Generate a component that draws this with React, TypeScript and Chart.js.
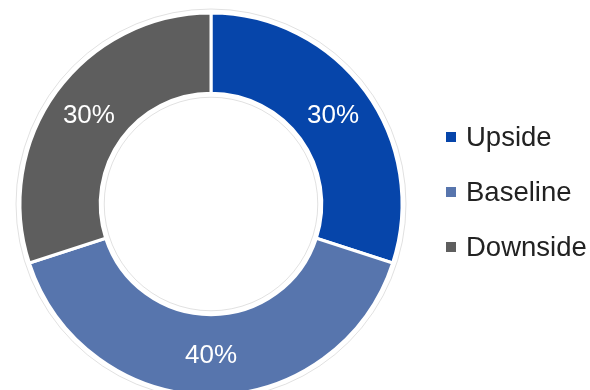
import React, { useEffect, useRef } from "react";
import { Chart, registerables } from "chart.js";

Chart.register(...registerables);

const categories = ["Upside", "Baseline", "Downside"];
const shares = [30, 40, 30];
const colors = ["#0645AA", "#5775AD", "#5E5E5E"];

const FONT = "'Liberation Sans', Arial, sans-serif";

const ringPlugin = {
  id: "ringDecor",
  beforeDatasetsDraw(chart: any) {
    const meta = chart.getDatasetMeta(0);
    const arc = meta.data[0];
    if (!arc) return;
    const { x, y, outerRadius, innerRadius } = arc.getProps(["x", "y", "outerRadius", "innerRadius"], true);
    const ctx = chart.ctx;
    ctx.save();
    ctx.strokeStyle = "rgba(0,0,0,0.12)";
    ctx.lineWidth = 1;
    ctx.beginPath();
    ctx.arc(x, y, outerRadius + 4, 0, Math.PI * 2);
    ctx.stroke();
    ctx.beginPath();
    ctx.arc(x, y, innerRadius - 4, 0, Math.PI * 2);
    ctx.stroke();
    ctx.restore();
  },
};

const labelPlugin = {
  id: "sliceLabels",
  afterDatasetsDraw(chart: any) {
    const ctx = chart.ctx;
    const meta = chart.getDatasetMeta(0);
    const data = chart.data.datasets[0].data as number[];
    const total = data.reduce((a, b) => a + b, 0);
    ctx.save();
    ctx.fillStyle = "#ffffff";
    ctx.font = `26px ${FONT}`;
    ctx.textAlign = "center";
    ctx.textBaseline = "middle";
    meta.data.forEach((el: any, i: number) => {
      const { x, y, startAngle, endAngle, outerRadius, innerRadius } = el.getProps(
        ["x", "y", "startAngle", "endAngle", "outerRadius", "innerRadius"],
        true
      );
      const mid = (startAngle + endAngle) / 2;
      const r = (outerRadius + innerRadius) / 2;
      const pct = Math.round((data[i] / total) * 100) + "%";
      ctx.fillText(pct, x + Math.cos(mid) * r, y + Math.sin(mid) * r + 1);
    });
    ctx.restore();
  },
};

const legendPlugin = {
  id: "sideLegend",
  afterDraw(chart: any) {
    const ctx = chart.ctx;
    const labels = chart.data.labels as string[];
    const bg = chart.data.datasets[0].backgroundColor as string[];
    const x0 = 446;
    const y0 = 137;
    const step = 55;
    ctx.save();
    ctx.font = `27.5px ${FONT}`;
    ctx.textBaseline = "middle";
    ctx.textAlign = "left";
    labels.forEach((lab, i) => {
      const cy = y0 + i * step;
      ctx.fillStyle = bg[i];
      ctx.fillRect(x0, cy - 5, 10, 10);
      ctx.fillStyle = "#222222";
      ctx.fillText(lab, x0 + 20, cy + 1);
    });
    ctx.restore();
  },
};

export default function App() {
  const ref = useRef<HTMLCanvasElement>(null);
  useEffect(() => {
    if (!ref.current) return;
    const chart = new Chart(ref.current, {
      type: "doughnut",
      data: {
        labels: categories,
        datasets: [
          {
            data: shares,
            backgroundColor: colors,
            borderColor: "#ffffff",
            borderWidth: 3,
            radius: 191,
            cutout: "58%",
          } as any,
        ],
      },
      options: {
        responsive: false,
        animation: false,
        layout: { padding: { left: 0, right: 168, top: 18, bottom: 0 } },
        plugins: {
          legend: { display: false },
          tooltip: { enabled: false },
        },
      },
      plugins: [ringPlugin, labelPlugin, legendPlugin],
    });
    return () => chart.destroy();
  }, []);
  return (
    <div style={{ position: "fixed", left: 0, top: 0, width: 590, height: 390, background: "#fff" }}>
      <canvas ref={ref} width={590} height={390} />
    </div>
  );
}
